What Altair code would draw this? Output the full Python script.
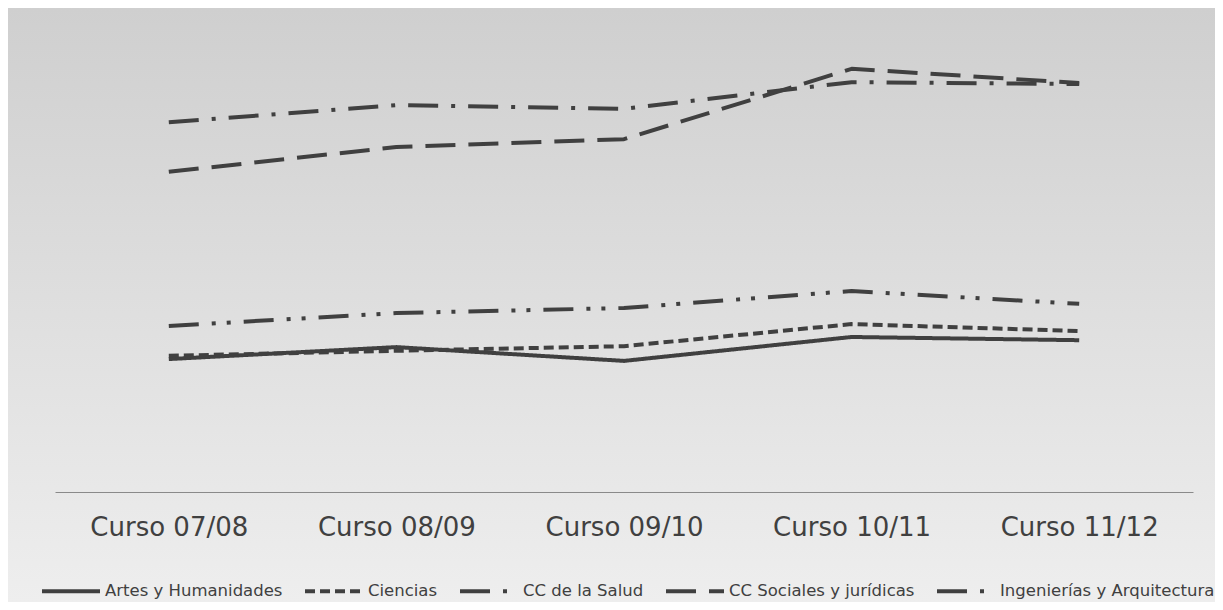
import altair as alt
import pandas as pd

categories = ["Curso 07/08", "Curso 08/09", "Curso 09/10", "Curso 10/11", "Curso 11/12"]
series = ["Artes y Humanidades", "Ciencias", "CC de la Salud",
          "CC Sociales y jurídicas", "Ingenierías y Arquitectura"]
artes = [28.9, 31.5, 28.5, 33.7, 33.0]
ciencias = [29.6, 30.7, 31.7, 36.5, 35.0]
salud = [80.4, 84.1, 83.3, 89.1, 88.7]
sociales = [69.6, 75.0, 76.7, 92.0, 88.9]
ingenierias = [36.1, 38.9, 40.0, 43.7, 40.9]

values = [artes, ciencias, salud, sociales, ingenierias]
rows = []
for name, vals in zip(series, values):
    for cat, v in zip(categories, vals):
        rows.append({"curso": cat, "serie": name, "valor": v})
df = pd.DataFrame(rows)

dashes = [[1, 0], [10, 5], [30, 13, 4, 13], [30, 13], [30, 13, 4, 11, 4, 13]]

PW, PH = 1138, 460
PL, PT, PR, PB = 47, 24, 22, 110

bg = alt.Chart(pd.DataFrame({"a": [0]})).mark_rect(
    fill=alt.LinearGradient(
        gradient="linear",
        stops=[alt.GradientStop(color="#cfcfcf", offset=0),
               alt.GradientStop(color="#eeeeee", offset=1)],
        x1=0, x2=0, y1=0, y2=1,
    )
).encode(
    x=alt.value(-PL), x2=alt.value(PW + PR),
    y=alt.value(-PT), y2=alt.value(PH + PB),
)

lines = alt.Chart(df).mark_line(
    color="#404040", strokeWidth=4, strokeJoin="round"
).encode(
    x=alt.X("curso:N", sort=categories, title=None,
            axis=alt.Axis(labelAngle=0, labelFont="DejaVu Sans", labelFontSize=26,
                          labelColor="#404040", labelPadding=22, ticks=False,
                          grid=False, domainColor="#8a8a8a", domainWidth=1,
                          zindex=1)),
    y=alt.Y("valor:Q", scale=alt.Scale(domain=[0, 100]), axis=None),
    strokeDash=alt.StrokeDash(
        "serie:N",
        scale=alt.Scale(domain=series, range=dashes),
        sort=series,
        legend=alt.Legend(
            title=None, orient="none", direction="horizontal", columns=5,
            legendX=-15, legendY=528, padding=0, zindex=1,
            symbolType="stroke", symbolSize=3364, symbolStrokeWidth=4,
            symbolStrokeColor="#404040", labelFont="DejaVu Sans",
            labelFontSize=16.5, labelColor="#404040", labelOffset=3,
            labelLimit=0, columnPadding=14,
        ),
    ),
)

chart = alt.layer(bg, lines).properties(
    width=PW, height=PH,
    autosize=alt.AutoSizeParams(type="none"),
    padding={"left": PL, "top": PT, "right": PR, "bottom": PB},
).configure_view(strokeWidth=0).configure(background="white")

chart.save("out.html", embed_options={"renderer": "svg", "actions": False})
